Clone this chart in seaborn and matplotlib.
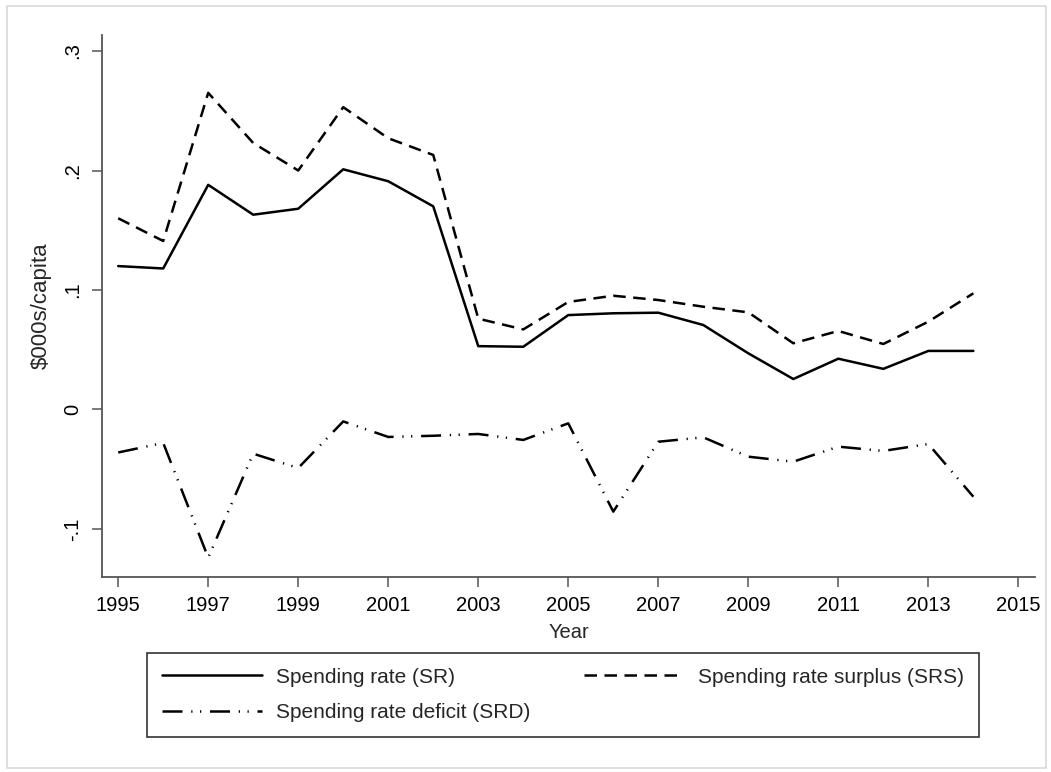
import numpy as np
import pandas as pd
import matplotlib
matplotlib.use("Agg")
import matplotlib.pyplot as plt
import matplotlib.patches as mpatches
import seaborn as sns

years = list(range(1995, 2015))
sr = [0.120, 0.118, 0.188, 0.163, 0.168, 0.201, 0.191, 0.170, 0.053, 0.0525,
      0.079, 0.0805, 0.081, 0.0707, 0.047, 0.0255, 0.0425, 0.034, 0.049, 0.049]
srs = [0.160, 0.141, 0.265, 0.223, 0.200, 0.253, 0.227, 0.213, 0.076, 0.067,
       0.090, 0.0952, 0.0916, 0.086, 0.0813, 0.0554, 0.0657, 0.0548, 0.0735, 0.0972]
srd = [-0.036, -0.028, -0.124, -0.037, -0.049, -0.010, -0.023, -0.022, -0.0205, -0.0255,
       -0.0116, -0.0855, -0.027, -0.0233, -0.0395, -0.0437, -0.0311, -0.0347, -0.0289, -0.073]
series_names = ["Spending rate (SR)", "Spending rate surplus (SRS)", "Spending rate deficit (SRD)"]
ytick_vals = [-0.1, 0, 0.1, 0.2, 0.3]
ytick_labels = ["-.1", "0", ".1", ".2", ".3"]
xtick_vals = list(range(1995, 2016, 2))

df = pd.concat([
    pd.DataFrame({"Year": years, "value": sr, "series": series_names[0]}),
    pd.DataFrame({"Year": years, "value": srs, "series": series_names[1]}),
    pd.DataFrame({"Year": years, "value": srd, "series": series_names[2]}),
])

sns.set_theme(style="white")
plt.rcParams["font.family"] = ["Liberation Sans", "DejaVu Sans"]

fig = plt.figure(figsize=(10.51, 7.72), dpi=100)
ax = fig.add_axes([102/1051, 1-577/772, (1035-102)/1051, (577-35)/772])

dashes = {series_names[0]: "", series_names[1]: (5, 3), series_names[2]: (8, 3.5, 0.5, 3, 0.5, 3.5)}
palette = {n: "black" for n in series_names}
sns.lineplot(data=df, x="Year", y="value", hue="series", style="series",
             dashes=dashes, palette=palette, linewidth=1.8, ax=ax, legend=True)

ax.set_xlim(1994.64, 2015.37)
ax.set_ylim(-0.1402, 0.3134)
ax.set_xticks(xtick_vals)
ax.set_yticks(ytick_vals)
ax.set_yticklabels(ytick_labels)
for sp in ["top", "right"]:
    ax.spines[sp].set_visible(False)
for sp in ["left", "bottom"]:
    ax.spines[sp].set_color("#555555")
    ax.spines[sp].set_linewidth(1.3)
ax.tick_params(axis="both", direction="out", length=7.5, width=1.1, color="#555555",
               labelsize=14.5, labelcolor="black", left=True, bottom=True)
ax.tick_params(axis="x", pad=6)
ax.tick_params(axis="y", pad=7)
for lab in ax.get_yticklabels():
    lab.set_rotation(90)
    lab.set_va("center")
    lab.set_ha("right")
ax.set_xlabel("Year", fontsize=14.5, labelpad=6)
ax.set_ylabel("$000s/capita", fontsize=16, labelpad=8)
ax.grid(False)

handles, labels = ax.get_legend_handles_labels()
hmap = dict(zip(labels, handles))
order = [series_names[0], series_names[2], series_names[1]]
ax.get_legend().remove()
leg = fig.legend([hmap[n] for n in order], order, ncol=2,
                 loc="upper left", bbox_to_anchor=(147/1051, 1-653/772),
                 fontsize=15, frameon=True, fancybox=False,
                 edgecolor="black", handlelength=4.8, handletextpad=0.7,
                 columnspacing=2.55, borderaxespad=0.0, labelspacing=0.8,
                 borderpad=0.7)
leg.get_frame().set_linewidth(1.2)

fig.patches.append(mpatches.Rectangle((7/1051, 1-768/772), (1046-7)/1051, (768-6)/772,
                                      transform=fig.transFigure, fill=False,
                                      edgecolor="#d9d9d9", linewidth=1.2))

fig.savefig("out.png", dpi=100, facecolor="white")
